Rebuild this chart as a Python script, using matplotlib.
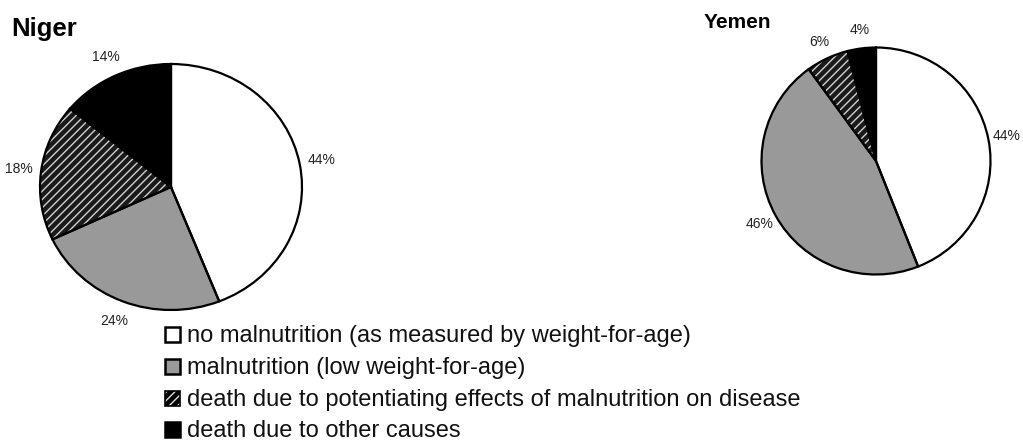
import matplotlib
matplotlib.use("Agg")
import matplotlib.pyplot as plt
from matplotlib.patches import Rectangle

plt.rcParams['font.family'] = ['Liberation Sans', 'DejaVu Sans']
plt.rcParams['hatch.linewidth'] = 1.0

categories = [
    "no malnutrition (as measured by weight-for-age)",
    "malnutrition (low weight-for-age)",
    "death due to potentiating effects of malnutrition on disease",
    "death due to other causes",
]
niger_values = [44, 24, 18, 14]
yemen_values = [44, 46, 6, 4]
countries = ["Niger", "Yemen"]

face_colors = ["#ffffff", "#999999", "#1a1a1a", "#000000"]
hatch_colors = ["#ffffff", "#999999", "#d0d0d0", "#000000"]
hatches = [None, None, "////", None]

W, H = 1023, 443
fig = plt.figure(figsize=(W / 100, H / 100), dpi=100)


def px_axes(cx, cy, rx, ry, lim):
    w = 2 * lim * rx
    h = 2 * lim * ry
    left = cx - w / 2
    top = cy - h / 2
    return fig.add_axes([left / W, 1 - (top + h) / H, w / W, h / H])


def draw_pie(ax, values, lim, pctdist):
    wedges, _, autotexts = ax.pie(
        values, colors=face_colors, startangle=90, counterclock=False,
        autopct=lambda p: f"{p:.0f}%", pctdistance=pctdist,
        wedgeprops=dict(linewidth=0),
        textprops=dict(fontsize=10, color="#222222"))
    for w, hc, hp in zip(wedges, hatch_colors, hatches):
        if hp:
            w.set_hatch(hp)
            w.set_edgecolor(hc)
    ax.pie(values, colors=["none"] * len(values), startangle=90,
           counterclock=False,
           wedgeprops=dict(linewidth=1.6, edgecolor="black", fill=False))
    ax.set_aspect("auto")
    ax.set_xlim(-lim, lim)
    ax.set_ylim(-lim, lim)
    ax.axis("off")


ax1 = px_axes(171, 187, 131, 123, 1.3)
draw_pie(ax1, niger_values, 1.3, 1.17)

ax2 = px_axes(876, 161, 114.5, 113.5, 1.25)
draw_pie(ax2, yemen_values, 1.25, 1.16)

fig.text(11 / W, 1 - 29 / H, countries[0], fontsize=18.5, fontweight="bold",
         ha="left", va="center")
fig.text(704 / W, 1 - 22 / H, countries[1], fontsize=15, fontweight="bold",
         ha="left", va="center")

# legend
row_y = [336, 368, 400, 431]
sq = 15
x0 = 165
for lab, fc, hc, hp, y in zip(categories, face_colors, hatch_colors, hatches, row_y):
    ys = y - 2
    if hp:
        r = Rectangle((x0 / W, 1 - (ys + sq / 2) / H), sq / W, sq / H,
                      transform=fig.transFigure, facecolor="#000000",
                      edgecolor="#dddddd", hatch="////", linewidth=0)
        fig.add_artist(r)
        r2 = Rectangle((x0 / W, 1 - (ys + sq / 2) / H), sq / W, sq / H,
                       transform=fig.transFigure, fill=False,
                       edgecolor="black", linewidth=1.2)
        fig.add_artist(r2)
    else:
        r = Rectangle((x0 / W, 1 - (ys + sq / 2) / H), sq / W, sq / H,
                      transform=fig.transFigure, facecolor=fc,
                      edgecolor="black", linewidth=1.8)
        fig.add_artist(r)
    fig.text(187 / W, 1 - (y + 6) / H, lab, fontsize=17, ha="left",
             va="baseline", color="#111111")

fig.savefig("out.png", dpi=100)
